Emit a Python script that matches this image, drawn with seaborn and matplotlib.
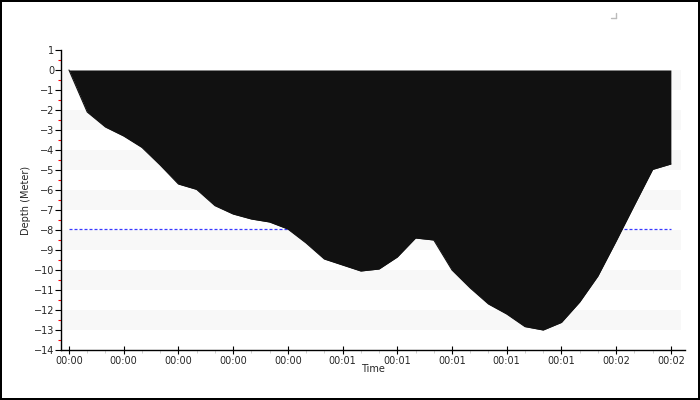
import matplotlib

matplotlib.use("Agg")

import matplotlib.pyplot as plt
import matplotlib.ticker as mticker
import numpy as np
import pandas as pd
import seaborn as sns
from matplotlib.lines import Line2D

sns.set_theme(style="white")
plt.rcParams["font.family"] = ["DejaVu Sans"]

# dive profile: one sample every 4 seconds
time_s = np.arange(0, 136, 4)
depth_m = [
    0.0, -2.1, -2.85, -3.3, -3.87, -4.75, -5.7, -5.97, -6.78, -7.2,
    -7.45, -7.6, -7.95, -8.65, -9.45, -9.75, -10.05, -9.95, -9.35, -8.4,
    -8.5, -10.0, -10.9, -11.7, -12.2, -12.83, -13.0, -12.62, -11.6, -10.3,
    -8.55, -6.75, -4.97, -4.7,
]
limit_depth = -7.95
time_ticks = np.arange(0, 133, 12)
depth_ticks = np.arange(-14, 2, 1)

df = pd.DataFrame({"time": time_s, "depth": depth_m})

fig = plt.figure(figsize=(7, 4), dpi=100)
fig.patch.set_edgecolor("black")
fig.patch.set_linewidth(1.5)
ax = fig.add_axes([61 / 700, 50 / 400, 624 / 700, 300 / 400])

# alternating background bands
for top in range(0, -14, -2):
    ax.axhspan(top - 1, top, xmin=0.002, xmax=0.994, color="#f8f8f8", lw=0, zorder=0)

ax.fill_between(df["time"], 0, df["depth"], color="#111111", lw=0, zorder=2)
sns.lineplot(data=df, x="time", y="depth", color="#111111", lw=0.8, ax=ax, zorder=3)

ax.plot([time_s[0], time_s[-1]], [limit_depth, limit_depth], color="#3a3aff",
        lw=0.9, dashes=(2.4, 1.6), zorder=1)

ax.set_xlim(-1.75, 135.1)
ax.set_ylim(-14, 1)
ax.set_xticks(time_ticks)
ax.xaxis.set_major_formatter(mticker.FuncFormatter(lambda s, _: f"00:{int(s // 60):02d}"))
ax.xaxis.set_minor_locator(mticker.MultipleLocator(4))
ax.set_yticks(depth_ticks)
ax.yaxis.set_minor_locator(mticker.MultipleLocator(0.5))

ax.tick_params(axis="x", which="major", direction="inout", length=6, width=0.8,
               color="black", labelsize=7, pad=1, bottom=True)
ax.tick_params(axis="x", which="minor", direction="out", length=2.5, width=0.6,
               color="#c8c8c8", bottom=True)
ax.tick_params(axis="y", which="major", direction="out", length=4, width=0.8,
               color="black", labelsize=7, pad=1, left=True)
ax.tick_params(axis="y", which="minor", direction="out", length=2, width=0.8,
               color="red", left=True)

for side in ["top", "right"]:
    ax.spines[side].set_visible(False)
for side in ["left", "bottom"]:
    ax.spines[side].set_color("black")
    ax.spines[side].set_linewidth(1)

ax.set_xlabel("Time", fontsize=7, labelpad=-1)
ax.set_ylabel("Depth (Meter)", fontsize=7, labelpad=2)
ax.grid(False)

# small legend corner mark
fig.add_artist(Line2D([611 / 700, 616 / 700], [1 - 18 / 400, 1 - 18 / 400], color="#bbbbbb", lw=1))
fig.add_artist(Line2D([616 / 700, 616 / 700], [1 - 18 / 400, 1 - 13 / 400], color="#bbbbbb", lw=1))

fig.savefig("out.png", dpi=100)
